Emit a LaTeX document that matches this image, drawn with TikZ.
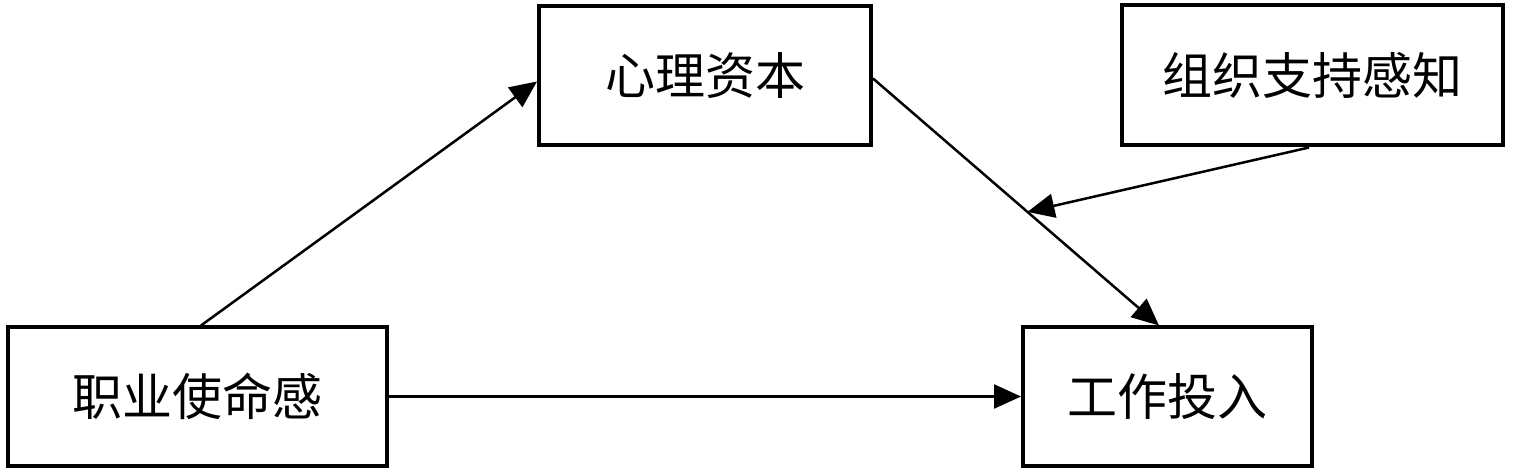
\documentclass[tikz,border=0pt]{standalone}
\usepackage{fontspec}
\newfontfamily\cjk{Noto Sans CJK SC}
\usetikzlibrary{arrows.meta,calc}
\begin{document}
\begin{tikzpicture}[x=1bp,y=-1bp,
  boxnode/.style={draw=black,line width=4bp,fill=white,inner sep=0pt,
    font=\cjk\fontsize{50bp}{60bp}\selectfont},
  conn/.style={draw=black,line width=2.5bp,-{Triangle[length=27bp,width=24bp]}}]
\fill[white] (0,0) rectangle (1514,472);
\useasboundingbox (0,0) rectangle (1514,472);
\node[boxnode,minimum width=332bp,minimum height=139bp] (xl) at (705,75.5) {心理资本};
\node[boxnode,minimum width=381bp,minimum height=140bp] (zz) at (1312.5,75.5) {组织支持感知};
\node[boxnode,minimum width=379bp,minimum height=138bp] (zy) at (197.5,396.5) {职业使命感};
\node[boxnode,minimum width=289bp,minimum height=138bp] (gz) at (1167.5,396.5) {工作投入};
\coordinate (ds) at ([yshift=-3bp]xl.east);
\coordinate (de) at ([xshift=138bp]gz.north west);
\coordinate (m) at ($(ds)!0.54!(de)$);
\draw[conn] ([xshift=195bp]zy.north west) -- ([yshift=-6bp]xl.west);
\draw[conn] (ds) -- (de);
\draw[conn] ([xshift=189bp]zz.south west) -- (m);
\draw[conn] (zy.east) -- (gz.west);
\end{tikzpicture}
\end{document}
